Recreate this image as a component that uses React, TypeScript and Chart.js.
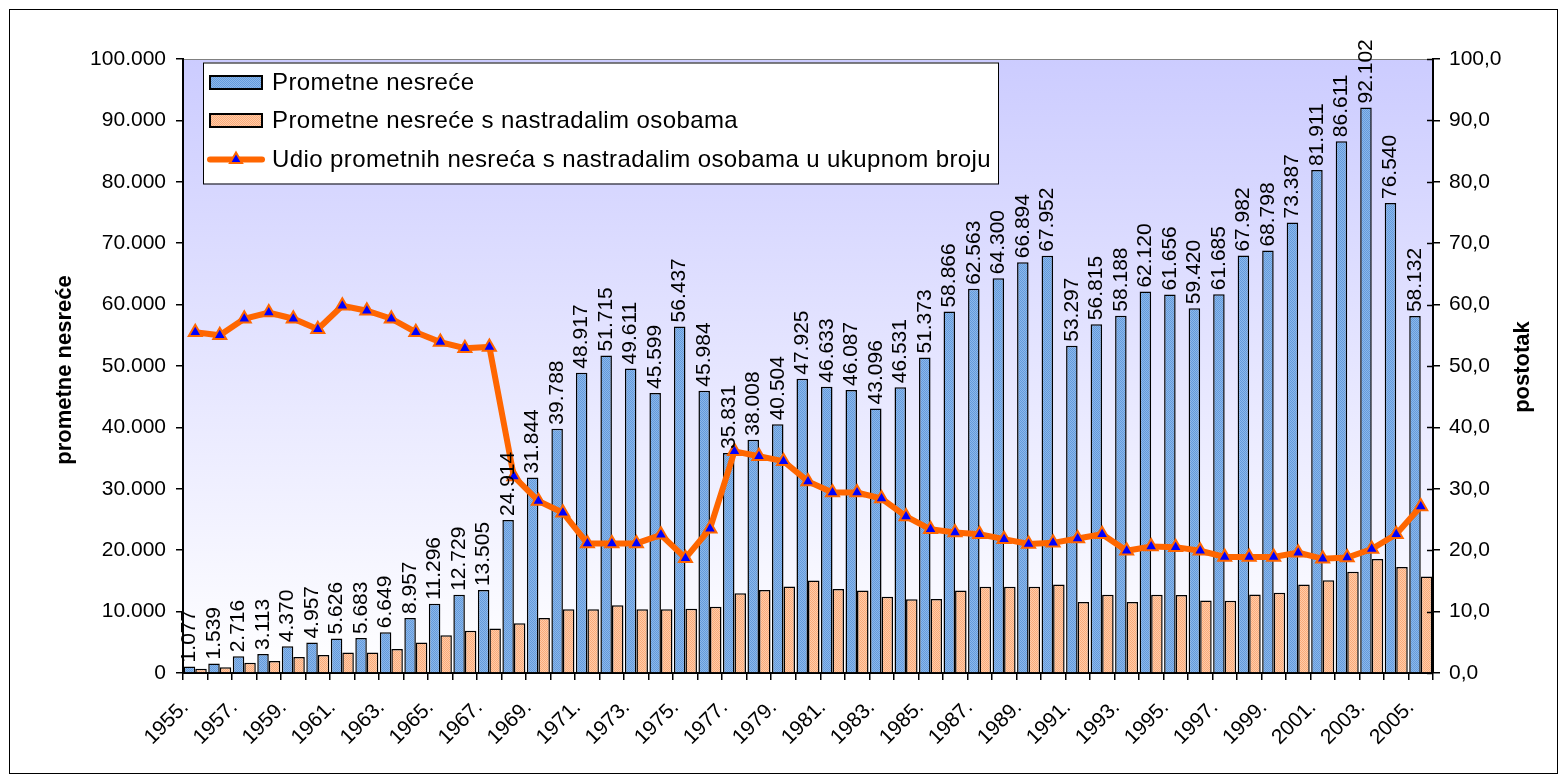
import React, { useEffect, useRef } from 'react';
import { Chart, registerables } from 'chart.js';

Chart.register(...registerables);

const years = [
  1955, 1956, 1957, 1958, 1959, 1960, 1961, 1962, 1963, 1964, 1965, 1966, 1967,
  1968, 1969, 1970, 1971, 1972, 1973, 1974, 1975, 1976, 1977, 1978, 1979, 1980,
  1981, 1982, 1983, 1984, 1985, 1986, 1987, 1988, 1989, 1990, 1991, 1992, 1993,
  1994, 1995, 1996, 1997, 1998, 1999, 2000, 2001, 2002, 2003, 2004, 2005,
];

const accidents = [
  1077, 1539, 2716, 3113, 4370, 4957, 5626, 5683, 6649, 8957, 11296, 12729, 13505,
  24914, 31844, 39788, 48917, 51715, 49611, 45599, 56437, 45984,
  35831, 38008, 40504, 47925, 46633, 46087, 43096, 46531, 51373, 58866,
  62563, 64300, 66894, 67952, 53297, 56815, 58188, 62120, 61656, 59420,
  61685, 67982, 68798, 73387, 81911, 86611, 92102, 76540, 58132,
];

const accidentsWithCasualties = [
  700, 950, 1650, 1950, 2600, 2950, 3350, 3350, 3900, 4950, 6150, 6900, 7250,
  8100, 8950, 10400, 10400, 11050, 10400, 10400, 10450, 10800,
  13000, 13500, 14100, 15050, 13700, 13450, 12400, 12000, 12050, 13450,
  14050, 14050, 14050, 14400, 11550, 12750, 11550, 12750, 12700, 11800,
  11750, 12800, 13050, 14400, 15100, 16500, 18550, 17250, 15700,
];

const casualtyShare = [
  55.5, 55.0, 57.7, 58.7, 57.7, 56.0, 59.8, 59.0, 57.7, 55.5, 53.9, 52.9, 53.1,
  32.0, 28.0, 26.1, 21.1, 21.1, 21.1, 22.5, 18.7, 23.5,
  36.1, 35.3, 34.5, 31.2, 29.4, 29.4, 28.4, 25.5, 23.4, 22.9,
  22.6, 21.8, 21.0, 21.2, 21.9, 22.6, 19.9, 20.6, 20.5, 19.9,
  18.9, 18.9, 18.9, 19.6, 18.6, 18.8, 20.2, 22.6, 27.1,
];

const seriesNames = [
  'Prometne nesreće',
  'Prometne nesreće s nastradalim osobama',
  'Udio prometnih nesreća s nastradalim osobama u ukupnom broju',
];
const leftAxisTitle = 'prometne nesreće';
const rightAxisTitle = 'postotak';

const FONT = '"Liberation Sans", Arial, Helvetica, sans-serif';

function fmtThousands(n: number): string {
  const t = Math.floor(n / 1000);
  const r = Math.round(n % 1000);
  return t > 0 ? `${t}.${String(r).padStart(3, '0')}` : String(r);
}

function makePattern(c1: string, c2: string): CanvasPattern | string {
  const c = document.createElement('canvas');
  c.width = 2;
  c.height = 2;
  const x = c.getContext('2d');
  if (!x) return c1;
  x.fillStyle = c1;
  x.fillRect(0, 0, 2, 2);
  x.fillStyle = c2;
  x.fillRect(0, 0, 1, 1);
  x.fillRect(1, 1, 1, 1);
  return x.createPattern(c, 'repeat') || c1;
}

function triangle(ctx: CanvasRenderingContext2D, x: number, y: number, r: number) {
  let rad = 0;
  ctx.beginPath();
  ctx.moveTo(x + Math.sin(rad) * r, y - Math.cos(rad) * r);
  rad += (2 * Math.PI) / 3;
  ctx.lineTo(x + Math.sin(rad) * r, y - Math.cos(rad) * r);
  rad += (2 * Math.PI) / 3;
  ctx.lineTo(x + Math.sin(rad) * r, y - Math.cos(rad) * r);
  ctx.closePath();
}

export default function App() {
  const ref = useRef<HTMLCanvasElement | null>(null);

  useEffect(() => {
    if (!ref.current) return;
    const blue = makePattern('rgb(140,184,234)', 'rgb(100,154,220)');
    const orange = makePattern('rgb(255,204,168)', 'rgb(250,170,122)');

    const bgPlugin = {
      id: 'bgPlugin',
      beforeDraw(chart: any) {
        const { ctx, chartArea: a, width, height } = chart;
        ctx.save();
        ctx.fillStyle = '#ffffff';
        ctx.fillRect(0, 0, width, height);
        ctx.strokeStyle = '#000';
        ctx.lineWidth = 1;
        ctx.strokeRect(9.5, 9.5, width - 19, height - 19);
        const g = ctx.createLinearGradient(0, a.top, 0, a.bottom);
        g.addColorStop(0, 'rgb(204,204,255)');
        g.addColorStop(1, 'rgb(255,255,255)');
        ctx.fillStyle = g;
        ctx.fillRect(a.left, a.top, a.right - a.left, a.bottom - a.top);
        ctx.strokeStyle = '#808080';
        ctx.strokeRect(a.left + 0.5, a.top + 0.5, a.right - a.left - 1, a.bottom - a.top - 1);
        ctx.restore();
      },
    };

    const labelPlugin = {
      id: 'labelPlugin',
      afterDatasetsDraw(chart: any) {
        const { ctx } = chart;
        const meta = chart.getDatasetMeta(0);
        ctx.save();
        ctx.font = `21px ${FONT}`;
        ctx.fillStyle = '#000';
        ctx.textAlign = 'left';
        ctx.textBaseline = 'middle';
        meta.data.forEach((bar: any, i: number) => {
          ctx.save();
          ctx.translate(bar.x, bar.y - 4);
          ctx.rotate(-Math.PI / 2);
          ctx.fillText(fmtThousands(accidents[i]), 0, 0);
          ctx.restore();
        });
        ctx.restore();
      },
    };

    const decoPlugin = {
      id: 'decoPlugin',
      afterDraw(chart: any) {
        const { ctx, chartArea: a } = chart;
        ctx.save();
        // inner half of right-axis tick marks (they cross the axis)
        const y1 = chart.scales.y1;
        ctx.strokeStyle = '#000';
        ctx.lineWidth = 1.5;
        y1.ticks.forEach((_t: any, i: number) => {
          const py = Math.round(y1.getPixelForTick(i)) + 0.5;
          ctx.beginPath();
          ctx.moveTo(a.right - 6, py);
          ctx.lineTo(a.right, py);
          ctx.stroke();
        });

        // axis titles
        ctx.fillStyle = '#000';
        ctx.font = `bold 22px ${FONT}`;
        ctx.textAlign = 'center';
        ctx.textBaseline = 'middle';
        const cy = (a.top + a.bottom) / 2;
        ctx.save();
        ctx.translate(65, cy + 4);
        ctx.rotate(-Math.PI / 2);
        ctx.fillText(leftAxisTitle, 0, 0);
        ctx.restore();
        ctx.save();
        ctx.translate(1523, cy + 1);
        ctx.rotate(-Math.PI / 2);
        ctx.fillText(rightAxisTitle, 0, 0);
        ctx.restore();

        // legend
        const lx = a.left + 20;
        const ly = a.top + 3.5;
        const lw = 795;
        const lh = 121;
        ctx.fillStyle = '#fff';
        ctx.fillRect(lx, ly, lw, lh);
        ctx.strokeStyle = '#000';
        ctx.lineWidth = 1;
        ctx.strokeRect(lx + 0.5, ly + 0.5, lw, lh);
        const rows = [ly + 20, ly + 58, ly + 97];
        const fills = [blue, orange];
        for (let i = 0; i < 2; i++) {
          ctx.fillStyle = fills[i];
          ctx.fillRect(lx + 7, rows[i] - 6.5, 52, 13);
          ctx.strokeStyle = '#000';
          ctx.lineWidth = 2;
          ctx.strokeRect(lx + 7, rows[i] - 6.5, 52, 13);
        }
        ctx.strokeStyle = '#FF6600';
        ctx.lineWidth = 6;
        ctx.lineCap = 'round';
        ctx.beginPath();
        ctx.moveTo(lx + 7, rows[2]);
        ctx.lineTo(lx + 59, rows[2]);
        ctx.stroke();
        triangle(ctx, lx + 33, rows[2], 7);
        ctx.fillStyle = '#0000FF';
        ctx.fill();
        ctx.lineWidth = 2;
        ctx.strokeStyle = '#FF6600';
        ctx.stroke();
        ctx.fillStyle = '#000';
        ctx.font = `24px ${FONT}`;
        ctx.textAlign = 'left';
        ctx.textBaseline = 'middle';
        try {
          (ctx as any).letterSpacing = '0.4px';
        } catch (e) {}
        seriesNames.forEach((t, i) => ctx.fillText(t, lx + 69, rows[i] + 1));
        ctx.restore();
      },
    };

    const chart = new Chart(ref.current, {
      type: 'bar',
      data: {
        labels: years.map((y) => `${y}.`),
        datasets: [
          {
            type: 'bar',
            label: seriesNames[0],
            data: accidents,
            backgroundColor: blue as any,
            borderColor: '#000',
            borderWidth: 1.5,
            yAxisID: 'y',
            order: 1,
            categoryPercentage: 0.94,
            barPercentage: 1.0,
          },
          {
            type: 'bar',
            label: seriesNames[1],
            data: accidentsWithCasualties,
            backgroundColor: orange as any,
            borderColor: '#000',
            borderWidth: 1.5,
            yAxisID: 'y',
            order: 2,
            categoryPercentage: 0.94,
            barPercentage: 1.0,
          },
          {
            type: 'line',
            label: seriesNames[2],
            data: casualtyShare,
            yAxisID: 'y1',
            borderColor: '#FF6600',
            borderWidth: 6,
            pointStyle: 'triangle',
            pointRadius: 7.5,
            pointBackgroundColor: '#0000FF',
            pointBorderColor: '#FF6600',
            pointBorderWidth: 2,
            tension: 0,
            order: 0,
          } as any,
        ],
      },
      options: {
        responsive: false,
        animation: false,
        devicePixelRatio: 1,
        layout: { padding: { top: 59, left: 0, right: 0, bottom: 0 } },
        plugins: {
          legend: { display: false },
          tooltip: { enabled: false },
        },
        scales: {
          x: {
            type: 'category',
            offset: true,
            grid: {
              offset: true,
              drawOnChartArea: false,
              tickLength: 7,
              color: '#000',
              lineWidth: 1.5,
            },
            border: { color: '#000', width: 2 },
            ticks: {
              autoSkip: false,
              maxRotation: 45,
              minRotation: 45,
              padding: 15,
              labelOffset: -10,
              color: '#000',
              font: { family: FONT, size: 21 },
              callback: (_v: any, i: number) => (i % 2 === 0 ? `${years[i]}.` : ''),
            },
            afterFit: (s: any) => {
              s.height = 110;
            },
          },
          y: {
            position: 'left',
            min: 0,
            max: 100000,
            grid: { drawOnChartArea: false, tickLength: 7, color: '#000', lineWidth: 1.5 },
            border: { color: '#000', width: 2 },
            ticks: {
              stepSize: 10000,
              padding: 10,
              color: '#000',
              font: { family: FONT, size: 21 },
              callback: (v: any) => fmtThousands(Number(v)),
            },
            afterFit: (s: any) => {
              s.width = 183;
            },
          },
          y1: {
            position: 'right',
            min: 0,
            max: 100,
            grid: { drawOnChartArea: false, tickLength: 7, color: '#000', lineWidth: 1.5 },
            border: { color: '#000', width: 2 },
            ticks: {
              stepSize: 10,
              padding: 9,
              color: '#000',
              font: { family: FONT, size: 21 },
              callback: (v: any) => Number(v).toFixed(1).replace('.', ','),
            },
            afterFit: (s: any) => {
              s.width = 134;
            },
          },
        },
      },
      plugins: [bgPlugin, labelPlugin, decoPlugin],
    });

    return () => chart.destroy();
  }, []);

  return (
    <div
      style={{
        position: 'fixed',
        left: 0,
        top: 0,
        width: 1567,
        height: 783,
        background: '#fff',
      }}
    >
      <canvas ref={ref} width={1567} height={783} style={{ width: 1567, height: 783, display: 'block' }} />
    </div>
  );
}
